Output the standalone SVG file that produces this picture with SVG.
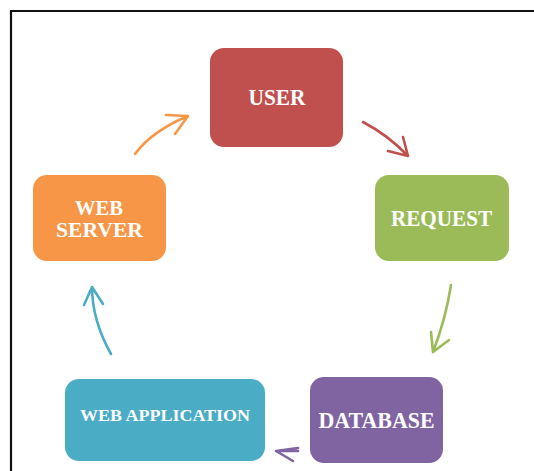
<svg xmlns="http://www.w3.org/2000/svg" width="534" height="471" viewBox="0 0 534 471">
<style>
.lbl{font-family:"Liberation Serif","Times New Roman",serif;font-weight:bold;fill:#ffffff;text-anchor:middle}
.c{fill:none;stroke-width:2.6;stroke-linecap:round;stroke-linejoin:round}
</style>
<rect x="0" y="0" width="534" height="471" fill="#ffffff"/>
<path d="M11,471 V11 H534" fill="none" stroke="#111111" stroke-width="2.2"/>
<g id="user">
<rect x="210" y="48" width="133" height="99" rx="14" fill="#C0504D"/>
<text class="lbl" x="277" y="104.5" font-size="23" textLength="57" lengthAdjust="spacingAndGlyphs">USER</text>
</g>
<g id="request">
<rect x="375" y="175" width="134" height="86" rx="14" fill="#9BBB59"/>
<text class="lbl" x="441.5" y="225.5" font-size="23" textLength="101" lengthAdjust="spacingAndGlyphs">REQUEST</text>
</g>
<g id="database">
<rect x="310" y="377" width="133" height="86" rx="14" fill="#8064A2"/>
<text class="lbl" x="376.5" y="427.5" font-size="23" textLength="116" lengthAdjust="spacingAndGlyphs">DATABASE</text>
</g>
<g id="web-application">
<rect x="65" y="379" width="200" height="82" rx="14" fill="#4BACC6"/>
<text class="lbl" x="165" y="421" font-size="17.5" textLength="170" lengthAdjust="spacingAndGlyphs">WEB APPLICATION</text>
</g>
<g id="web-server">
<rect x="33" y="175" width="133" height="86" rx="14" fill="#F79646"/>
<text class="lbl" x="99" y="214.5" font-size="21.5" textLength="48" lengthAdjust="spacingAndGlyphs">WEB</text>
<text class="lbl" x="99.5" y="237.3" font-size="21.5" textLength="87" lengthAdjust="spacingAndGlyphs">SERVER</text>
</g>
<g id="connectors">
<path class="c" stroke="#F79646" d="M135,154 Q152,131 188,116 M166,115 L188,116 L175,134"/>
<path class="c" stroke="#C0504D" d="M363,122 Q388,135 408,156 M403,137 L408,156 L388,151"/>
<path class="c" stroke="#9BBB59" d="M451,285 Q446,318 433,352 M431,332 L433,352 L449,340"/>
<path class="c" stroke="#8064A2" d="M298,451 L276,451 M298,448 L276,451 L293,461"/>
<path class="c" stroke="#4BACC6" d="M111,354 Q92,320 92,287 M84,305 L92,287 L103,304"/>
</g>
</svg>
